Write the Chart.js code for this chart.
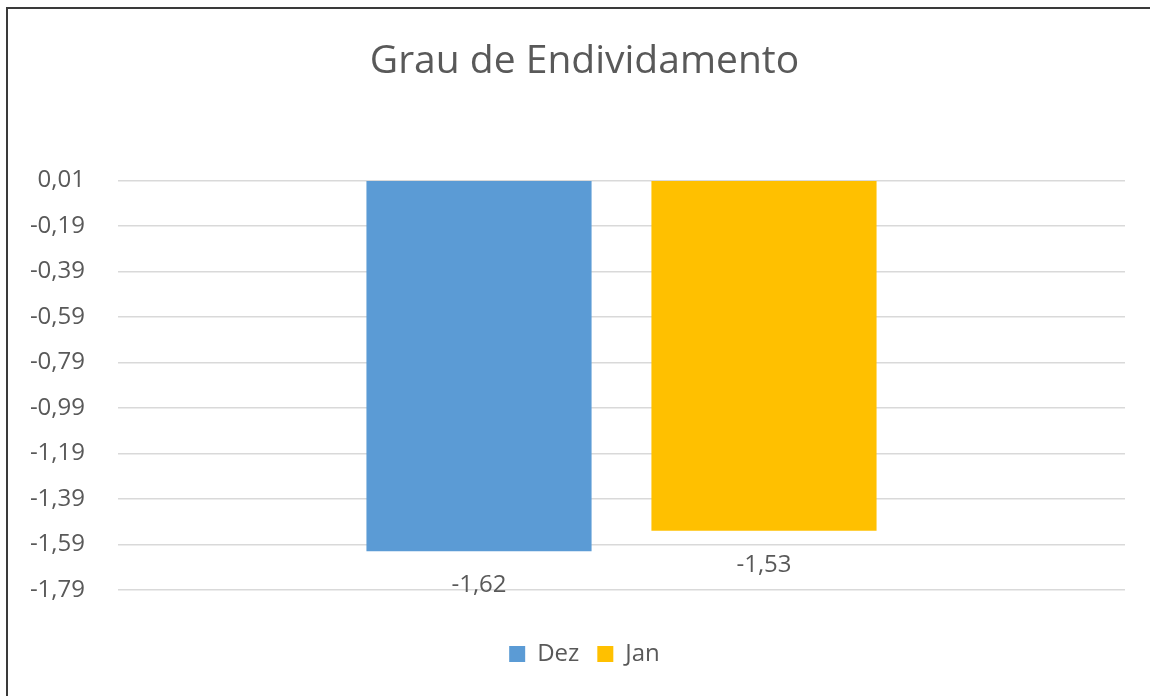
<!DOCTYPE html>
<html>
<head>
<meta charset="utf-8">
<script src="https://cdn.jsdelivr.net/npm/chart.js@4"></script>
<style>
  html, body { margin: 0; padding: 0; background: #fff; }
  #wrap { position: relative; width: 1150px; height: 696px; overflow: hidden; }
  #frame { position: absolute; left: 6px; top: 7px; width: 1200px; height: 760px;
           border-left: 2px solid #3a3a3a; border-top: 2px solid #3a3a3a; pointer-events: none; }
  canvas { position: absolute; left: 0; top: 0; }
</style>
</head>
<body>
<div id="wrap">
  <canvas id="grauChart" width="1150" height="696"></canvas>
  <div id="frame"></div>
</div>
<script>
const categories = ['Grau de Endividamento'];
const seriesNames = ['Dez', 'Jan'];
const dezValues = [-1.62];
const janValues = [-1.53];
const yTicks = [0.01, -0.19, -0.39, -0.59, -0.79, -0.99, -1.19, -1.39, -1.59, -1.79];

const fmt = v => v.toFixed(2).replace('.', ',');
const FONT = '"Open Sans", sans-serif';
const GRAY = '#595959';

// draws the value under each bar end, like the excel data labels
const valueLabels = {
    id: 'valueLabels',
    afterDatasetsDraw(chart) {
        const c = chart.ctx;
        c.save();
        c.font = '24px ' + FONT;
        c.fillStyle = GRAY;
        c.textAlign = 'center';
        c.textBaseline = 'middle';
        chart.data.datasets.forEach((ds, i) => {
            chart.getDatasetMeta(i).data.forEach((bar, j) => {
                c.fillText(fmt(ds.data[j]), bar.x, bar.y + 34);
            });
        });
        c.restore();
    }
};

// the left padding centres title/legend like excel; let y labels use that space
const unclipY = {
    id: 'unclipY',
    afterLayout(chart) {
        chart.scales.y.left = 0;
    }
};

const ctx = document.getElementById('grauChart').getContext('2d');
const grauChart = new Chart(ctx, {
    type: 'bar',
    data: {
        labels: categories,
        datasets: [{
            label: seriesNames[0],
            data: dezValues,
            backgroundColor: '#5B9BD5',
            base: yTicks[0],
        }, {
            label: seriesNames[1],
            data: janValues,
            backgroundColor: '#FFC000',
            base: yTicks[0],
        }]
    },
    options: {
        responsive: false,
        animation: false,
        categoryPercentage: 0.566,
        barPercentage: 0.79,
        layout: {
            padding: { left: 44, right: 25, top: 38.5, bottom: 20 }
        },
        scales: {
            x: {
                grid: { display: false },
                border: { display: false },
                ticks: { display: false },
                afterFit(scale) { scale.height = 34; }
            },
            y: {
                min: yTicks[yTicks.length - 1],
                max: yTicks[0],
                afterBuildTicks(scale) {
                    scale.ticks = yTicks.map(v => ({ value: v }));
                },
                afterFit(scale) { scale.width = 74; },
                grid: { color: '#d9d9d9', lineWidth: 1.5, drawTicks: false },
                border: { display: false },
                ticks: {
                    padding: 33,
                    color: GRAY,
                    font: { family: FONT, size: 24 },
                    callback: v => fmt(v)
                }
            }
        },
        plugins: {
            title: {
                display: true,
                text: 'Grau de Endividamento',
                color: GRAY,
                font: { family: FONT, size: 39, weight: 'normal' },
                padding: { top: 0, bottom: 95 }
            },
            legend: {
                position: 'bottom',
                labels: {
                    boxWidth: 16,
                    boxHeight: 16,
                    padding: 18,
                    color: GRAY,
                    font: { family: FONT, size: 24 }
                }
            },
            tooltip: { enabled: false }
        }
    },
    plugins: [valueLabels, unclipY]
});
</script>
</body>
</html>
